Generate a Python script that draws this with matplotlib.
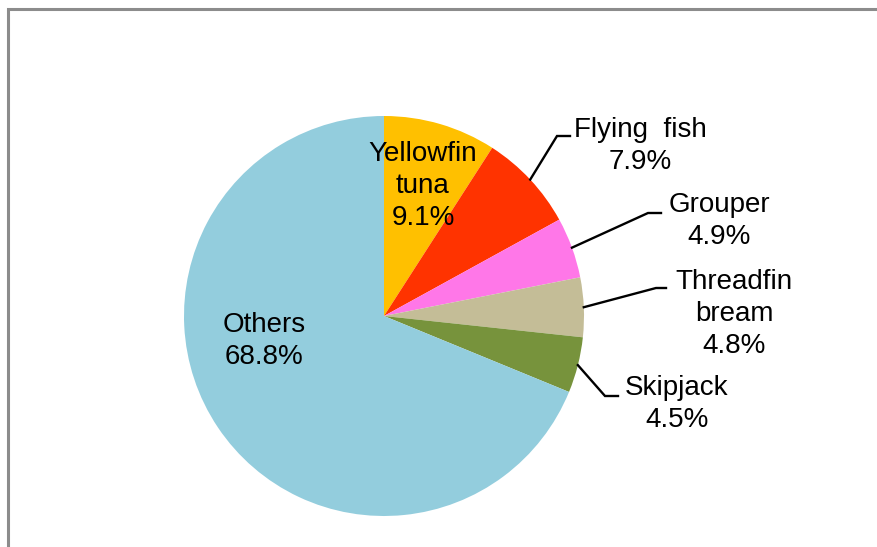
import numpy as np
import matplotlib
matplotlib.use("Agg")
import matplotlib.pyplot as plt
from matplotlib.patches import Rectangle

# catch share by species (%)
species = ["Yellowfin\ntuna", "Flying  fish", "Grouper", "Threadfin\nbream", "Skipjack", "Others"]
share = [9.1, 7.9, 4.9, 4.8, 4.5, 68.8]
colors = ["#FFC000", "#FF3300", "#FF77E8", "#C4BD97", "#77933C", "#93CDDD"]

W, H = 878, 547
plt.rcParams['font.family'] = ['Liberation Sans', 'DejaVu Sans']

fig = plt.figure(figsize=(W / 100, H / 100), dpi=100, facecolor='w')
ax = fig.add_axes([0, 0, 1, 1])

cx, cy, R = 384, H - 316, 200
wedges, _ = ax.pie(share, colors=colors, startangle=90, counterclock=False,
                   center=(cx, cy), radius=R,
                   wedgeprops=dict(linewidth=0))
ax.set_xlim(0, W)
ax.set_ylim(0, H)
ax.set_aspect('equal')
ax.axis('off')

fs = 20
ls = 1.32

# label positions (pixels from top-left): text centre, elbow, leader end
layout = {
    0: dict(text=(423, 186)),
    1: dict(text=(640, 146), elbow=(557, 136), end=(570, 136)),
    2: dict(text=(719, 221), elbow=(648, 213), end=(661, 213)),
    3: dict(text=(734, 314), elbow=(656, 288), end=(666, 288)),
    4: dict(text=(677, 404), elbow=(605, 396), end=(618, 396)),
    5: dict(text=(264, 341)),
}

for i, w in enumerate(wedges):
    lab = species[i] + "\n" + "%.1f%%" % share[i]
    tx, ty = layout[i]['text']
    ax.text(tx, H - ty, lab, ha='center', va='center', fontsize=fs,
            linespacing=ls, color='black')
    if 'elbow' in layout[i]:
        th = np.deg2rad((w.theta1 + w.theta2) / 2)
        x0, y0 = cx + R * np.cos(th), cy + R * np.sin(th)
        ex, ey = layout[i]['elbow']
        fx, fy = layout[i]['end']
        ax.plot([x0, ex, fx], [y0, H - ey, H - fy], color='black', lw=1.7,
                solid_joinstyle='miter')

# chart area border
fig.patches.append(Rectangle((8 / W, -0.5), 2, (H - 9) / H + 0.5,
                             transform=fig.transFigure, fill=False,
                             edgecolor='#8C8C8C', linewidth=2.2))

fig.savefig('out.png', dpi=100, facecolor='w')
